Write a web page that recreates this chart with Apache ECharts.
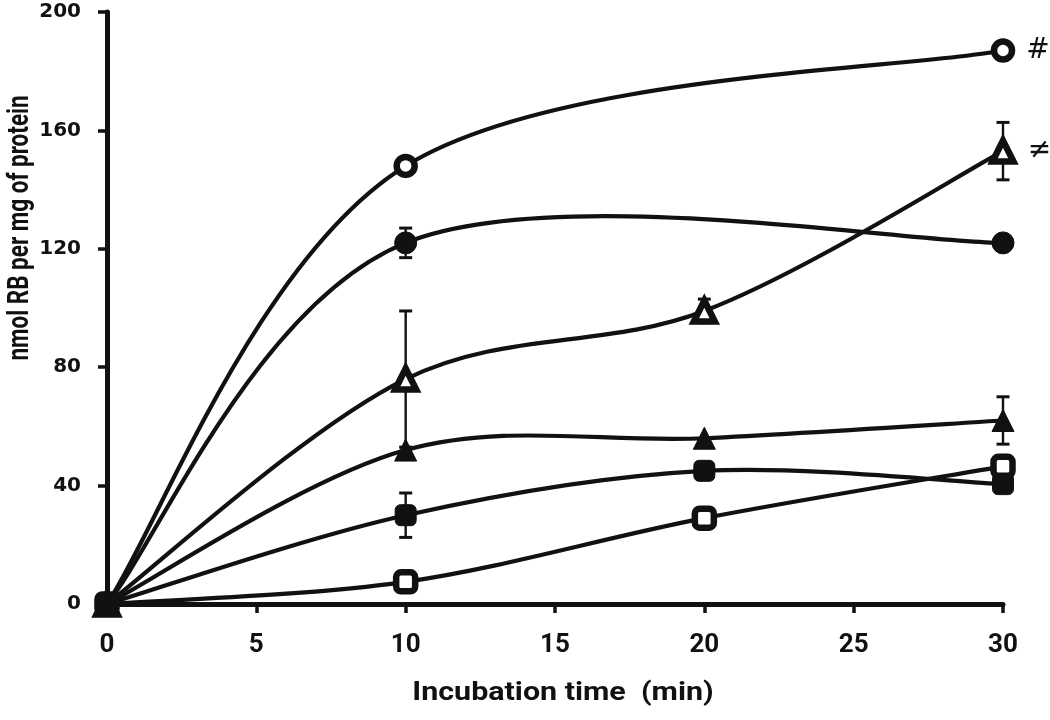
<!DOCTYPE html>
<html>
<head>
<meta charset="utf-8">
<script src="https://cdn.jsdelivr.net/npm/echarts@6/dist/echarts.min.js"></script>
<style>html,body{margin:0;padding:0;background:#fff}#c{width:1050px;height:720px}</style>
</head>
<body>
<div id="c"></div>
<script>
// ---- data ----
const xTicks = [0, 5, 10, 15, 20, 25, 30];
const yTicks = [0, 40, 80, 120, 160, 200];
const openCircle   = [[0, 0], [10, 148], [30, 187]];
const filledCircle = [[0, 0], [10, 122], [30, 122]];
const openTri      = [[0, 0], [10, 76], [20, 99], [30, 153]];
const filledTri    = [[0, 0], [10, 52], [20, 56], [30, 62]];
const openSq       = [[0, 0], [10, 7.5], [20, 29], [30, 46.5]];
const filledSq     = [[0, 0], [10, 30], [20, 45], [30, 40.5]];
// error bars: [x, mean, sd]
const errOpenTri      = [[10, 76, 23], [20, 99, 4], [30, 153, 9.7]];
const errFilledCircle = [[10, 122, 5]];
const errFilledTri    = [[30, 62, 8]];
const errFilledSq     = [[10, 30, 7.5]];
// annotations: [seriesName, x, label]
const annotations = [['openCircle', 30, '#'], ['openTri', 30, '≠']];
const xTitle = 'Incubation time  (min)';
const yTitle = 'nmol RB per mg of protein';

const chart = echarts.init(document.getElementById('c'), null, {renderer: 'canvas'});
const K = '#111';
const LW = 4.2;

function withAnno(name, data) {
  return data.map(d => {
    const a = annotations.find(a => a[0] === name && a[1] === d[0]);
    if (!a) return d;
    return {value: d, label: {show: true, position: 'right', distance: 11, formatter: a[2],
      color: K, fontSize: 28, fontFamily: 'DejaVu Sans', fontWeight: 'normal'}};
  });
}

// Smoothed (Catmull-Rom style) line drawn segment by segment through the axis scales
function curveSeries(data) {
  return {
    type: 'custom', z: 3, data, silent: true,
    renderItem(params, api) {
      const i = params.dataIndex;
      if (i >= data.length - 1) return null;
      const n = data.length;
      const P = k => api.coord(data[Math.max(0, Math.min(n - 1, k))]);
      const p0 = P(i - 1), p1 = P(i), p2 = P(i + 1), p3 = P(i + 2);
      const t = 1 / 6;
      return {
        type: 'bezierCurve',
        shape: {
          x1: p1[0], y1: p1[1],
          cpx1: p1[0] + (p2[0] - p0[0]) * t, cpy1: p1[1] + (p2[1] - p0[1]) * t,
          cpx2: p2[0] - (p3[0] - p1[0]) * t, cpy2: p2[1] - (p3[1] - p1[1]) * t,
          x2: p2[0], y2: p2[1]
        },
        style: {stroke: K, lineWidth: LW, fill: null, lineCap: 'round'}
      };
    }
  };
}

function markerSeries(name, data, symbol, size, open) {
  return {
    name, type: 'scatter', z: 5,
    data: withAnno(name, data),
    symbol, symbolSize: size,
    itemStyle: open ? {color: '#fff', borderColor: K, borderWidth: 6.5, opacity: 1} : {color: K, borderColor: K, borderWidth: 1, opacity: 1},
    emphasis: {disabled: true}
  };
}

function errSeries(data) {
  return {
    type: 'custom', z: 2, data, silent: true,
    renderItem(params, api) {
      const x = api.value(0), y = api.value(1), e = api.value(2);
      const t = api.coord([x, y + e]);
      const b = api.coord([x, y - e]);
      const hw = 6.5;
      return {type: 'group', children: [
        {type: 'line', shape: {x1: t[0], y1: t[1], x2: b[0], y2: b[1]}, style: {stroke: K, lineWidth: 2.4}},
        {type: 'line', shape: {x1: t[0] - hw, y1: t[1], x2: t[0] + hw, y2: t[1]}, style: {stroke: K, lineWidth: 3}},
        {type: 'line', shape: {x1: b[0] - hw, y1: b[1], x2: b[0] + hw, y2: b[1]}, style: {stroke: K, lineWidth: 3}}
      ]};
    }
  };
}

chart.setOption({
  animation: false,
  backgroundColor: '#fff',
  grid: {left: 107, right: 47, top: 12, bottom: 116, containLabel: false},
  xAxis: {
    type: 'value', min: xTicks[0], max: xTicks[xTicks.length - 1], interval: 5,
    axisLine: {lineStyle: {color: K, width: 5}},
    axisTick: {length: 9, lineStyle: {color: K, width: 3.5}},
    axisLabel: {margin: 28, fontFamily: 'Roboto, sans-serif', fontWeight: 'bold', fontSize: 26, color: K},
    splitLine: {show: false}
  },
  yAxis: {
    type: 'value', min: yTicks[0], max: yTicks[yTicks.length - 1], interval: 40,
    axisLine: {show: true, lineStyle: {color: K, width: 5}},
    axisTick: {show: true, length: 9, lineStyle: {color: K, width: 3.5}},
    axisLabel: {margin: 26, fontFamily: 'DejaVu Sans', fontWeight: 'bold', fontSize: 20, color: K},
    splitLine: {show: false}
  },
  graphic: [{
    type: 'text', x: 20, y: 228, rotation: Math.PI / 2, scaleX: 0.75,
    style: {text: yTitle, fontFamily: 'Roboto, sans-serif', fontWeight: 'bold', fontSize: 30,
      fill: K, align: 'center', verticalAlign: 'middle'}
  }, {
    type: 'text', x: 563, y: 693, scaleX: 1.17,
    style: {text: xTitle, fontFamily: 'Roboto, sans-serif', fontWeight: 'bold', fontSize: 26,
      fill: K, align: 'center', verticalAlign: 'middle'}
  }],
  series: [
    errSeries(errOpenTri), errSeries(errFilledCircle), errSeries(errFilledTri), errSeries(errFilledSq),
    curveSeries(openCircle), curveSeries(filledCircle), curveSeries(openTri),
    curveSeries(filledTri), curveSeries(openSq), curveSeries(filledSq),
    markerSeries('openCircle', openCircle, 'circle', 18, true),
    markerSeries('filledCircle', filledCircle, 'circle', 22, false),
    markerSeries('openTri', openTri, 'triangle', 21, true),
    markerSeries('filledTri', filledTri, 'triangle', 22, false),
    markerSeries('openSq', openSq, 'roundRect', 19, true),
    markerSeries('filledSq', filledSq, 'roundRect', 21, false)
  ]
});
</script>
</body>
</html>
